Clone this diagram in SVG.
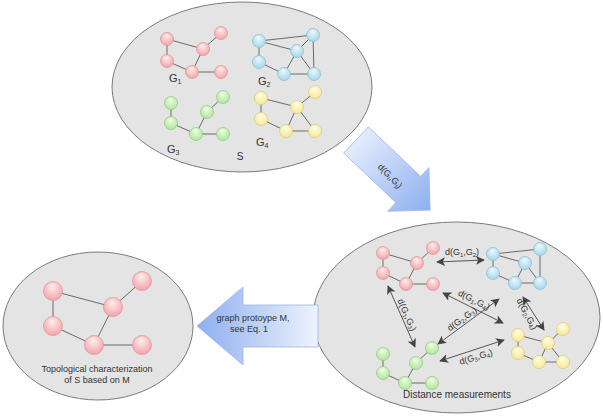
<svg xmlns="http://www.w3.org/2000/svg" width="603" height="417" viewBox="0 0 603 417">
<defs>
<radialGradient id="gr" cx="0.5" cy="0.4" r="0.6" fx="0.45" fy="0.25"><stop offset="0" stop-color="#fff0f0"/><stop offset="1" stop-color="#f3a4a8"/></radialGradient>
<radialGradient id="gb" cx="0.5" cy="0.4" r="0.6" fx="0.45" fy="0.25"><stop offset="0" stop-color="#eef9fd"/><stop offset="1" stop-color="#a6d6e9"/></radialGradient>
<radialGradient id="gg" cx="0.5" cy="0.4" r="0.6" fx="0.45" fy="0.25"><stop offset="0" stop-color="#f0fde8"/><stop offset="1" stop-color="#b0e69a"/></radialGradient>
<radialGradient id="gy" cx="0.5" cy="0.4" r="0.6" fx="0.45" fy="0.25"><stop offset="0" stop-color="#fffdea"/><stop offset="1" stop-color="#f6e994"/></radialGradient>
<linearGradient id="ga1" x1="0" y1="0" x2="1" y2="0"><stop offset="0" stop-color="#e3ecfc"/><stop offset="1" stop-color="#8eaff0"/></linearGradient>
<linearGradient id="ga2" x1="0" y1="0" x2="1" y2="0"><stop offset="0" stop-color="#8eaff0"/><stop offset="1" stop-color="#eef3fd"/></linearGradient>
<marker id="ah" viewBox="0 0 10 10" refX="9" refY="5" markerWidth="9" markerHeight="9" markerUnits="userSpaceOnUse" orient="auto-start-reverse"><path d="M0,0 L10,5 L0,10 L2.5,5 z" fill="#444"/></marker>
</defs>
<style>
.ell{fill:#e4e4e4;stroke:#7a7a7a;stroke-width:1}
.e{stroke:#6a6a6a;stroke-width:1;fill:none}
.r{fill:url(#gr);stroke:#e0979b;stroke-width:0.8}
.b{fill:url(#gb);stroke:#8cc0d4;stroke-width:0.8}
.g{fill:url(#gg);stroke:#96cc80;stroke-width:0.8}
.y{fill:url(#gy);stroke:#dccd80;stroke-width:0.8}
text{font-family:"Liberation Sans",Arial,sans-serif;fill:#333}
.gl{font-size:11px}
.dl{font-size:9px;text-anchor:middle}
.c{stroke:#555;stroke-width:1;fill:none;marker-start:url(#ah);marker-end:url(#ah)}
.arw{stroke:#9db5e6;stroke-width:0.8}
</style>

<g id="set-S">
<ellipse class="ell" cx="242" cy="87" rx="130" ry="85"/>
<text x="240" y="160" font-size="10" text-anchor="middle">S</text>
</g>

<g id="G1-top">
<path class="e" d="M167,39 L167,61 M167,39 L203,49 L221,33 M203,49 L192,72 L167,61 M192,72 L221,72"/>
<circle class="r" cx="167" cy="39" r="6.5"/><circle class="r" cx="221" cy="33" r="6.5"/><circle class="r" cx="203" cy="49" r="6.5"/><circle class="r" cx="167" cy="61" r="6.5"/><circle class="r" cx="192" cy="72" r="6.5"/><circle class="r" cx="221" cy="72" r="6.5"/>
<text class="gl" x="169" y="82">G<tspan font-size="7" dy="1.5">1</tspan></text>
</g>

<g id="G2-top">
<path class="e" d="M259,41 L313,35 L314,74 L284,74 L259,62 L259,41 L297,51 L284,74 M297,51 L314,74 M297,51 L313,35"/>
<circle class="b" cx="259" cy="41" r="6.5"/><circle class="b" cx="313" cy="35" r="6.5"/><circle class="b" cx="297" cy="51" r="6.5"/><circle class="b" cx="259" cy="62" r="6.5"/><circle class="b" cx="284" cy="74" r="6.5"/><circle class="b" cx="314" cy="74" r="6.5"/>
<text class="gl" x="258" y="85">G<tspan font-size="7" dy="1.5">2</tspan></text>
</g>

<g id="G3-top">
<path class="e" d="M171,103 L171,123 L196,134 L207,112 L223,97 M196,134 L223,134"/>
<circle class="g" cx="171" cy="103" r="6.5"/><circle class="g" cx="223" cy="97" r="6.5"/><circle class="g" cx="207" cy="112" r="6.5"/><circle class="g" cx="171" cy="123" r="6.5"/><circle class="g" cx="196" cy="134" r="6.5"/><circle class="g" cx="223" cy="134" r="6.5"/>
<text class="gl" x="167" y="153">G<tspan font-size="7" dy="1.5">3</tspan></text>
</g>

<g id="G4-top">
<path class="e" d="M261,98 L297,107 L315,92 M261,98 L261,119 L286,131 L315,131 L297,107 L286,131"/>
<circle class="y" cx="261" cy="98" r="6.5"/><circle class="y" cx="315" cy="92" r="6.5"/><circle class="y" cx="297" cy="107" r="6.5"/><circle class="y" cx="261" cy="119" r="6.5"/><circle class="y" cx="286" cy="131" r="6.5"/><circle class="y" cx="315" cy="131" r="6.5"/>
<text class="gl" x="256" y="146">G<tspan font-size="7" dy="1.5">4</tspan></text>
</g>

<g id="arrow-distance">
<polygon class="arw" fill="url(#ga1)" transform="translate(356,140) rotate(43.4)" points="0,-18 72,-18 72,-30 102,0 72,30 72,18 0,18"/>
<text font-size="9" text-anchor="middle" transform="translate(390,176) rotate(45)" y="3">d(G<tspan font-size="6" dy="1.5">i</tspan><tspan dy="-1.5">,G</tspan><tspan font-size="6" dy="1.5">j</tspan><tspan dy="-1.5">)</tspan></text>
</g>

<g id="distance-set">
<ellipse class="ell" cx="456.5" cy="317.5" rx="143.5" ry="95.5"/>
<text x="457" y="398" font-size="10" text-anchor="middle">Distance measurements</text>
</g>

<g id="G1-right">
<path class="e" d="M383,253 L383,273 M383,253 L417,263 L433,248 M417,263 L406,284 L383,273 M406,284 L433,284"/>
<circle class="r" cx="383" cy="253" r="6.5"/><circle class="r" cx="433" cy="248" r="6.5"/><circle class="r" cx="417" cy="263" r="6.5"/><circle class="r" cx="383" cy="273" r="6.5"/><circle class="r" cx="406" cy="284" r="6.5"/><circle class="r" cx="433" cy="284" r="6.5"/>
</g>

<g id="G2-right">
<path class="e" d="M493,254 L540,249 L540,283 L515,283 L493,273 L493,254 L525,263 L515,283 M525,263 L540,283"/>
<circle class="b" cx="493" cy="254" r="6.5"/><circle class="b" cx="540" cy="249" r="6.5"/><circle class="b" cx="525" cy="263" r="6.5"/><circle class="b" cx="493" cy="273" r="6.5"/><circle class="b" cx="515" cy="283" r="6.5"/><circle class="b" cx="540" cy="283" r="6.5"/>
</g>

<g id="G3-right">
<path class="e" d="M383,354 L383,373 L405,383 L416,363 L432,348 M405,383 L432,383"/>
<circle class="g" cx="383" cy="354" r="6.5"/><circle class="g" cx="432" cy="348" r="6.5"/><circle class="g" cx="416" cy="363" r="6.5"/><circle class="g" cx="383" cy="373" r="6.5"/><circle class="g" cx="405" cy="383" r="6.5"/><circle class="g" cx="432" cy="383" r="6.5"/>
</g>

<g id="G4-right">
<path class="e" d="M518,335 L548,343 L563,329 M518,335 L518,353 L539,362 L563,362 L548,343 L539,362"/>
<circle class="y" cx="518" cy="335" r="6.5"/><circle class="y" cx="563" cy="329" r="6.5"/><circle class="y" cx="548" cy="343" r="6.5"/><circle class="y" cx="518" cy="353" r="6.5"/><circle class="y" cx="539" cy="362" r="6.5"/><circle class="y" cx="563" cy="362" r="6.5"/>
</g>

<g id="connectors">
<line class="c" x1="437" y1="262" x2="484" y2="260"/>
<line class="c" x1="388" y1="286" x2="415" y2="347"/>
<line class="c" x1="443" y1="293" x2="503" y2="323"/>
<line class="c" x1="499" y1="299" x2="438" y2="344"/>
<line class="c" x1="523" y1="297" x2="544" y2="330"/>
<line class="c" x1="440" y1="361" x2="504" y2="340"/>
<text class="dl" transform="translate(462,252)" y="3">d(G<tspan font-size="6" dy="1.5">1</tspan><tspan dy="-1.5">,G</tspan><tspan font-size="6" dy="1.5">2</tspan><tspan dy="-1.5">)</tspan></text>
<text class="dl" transform="translate(407,315) rotate(66)" y="3">d(G<tspan font-size="6" dy="1.5">1</tspan><tspan dy="-1.5">,G</tspan><tspan font-size="6" dy="1.5">3</tspan><tspan dy="-1.5">)</tspan></text>
<text class="dl" transform="translate(474,300) rotate(27)" y="3">d(G<tspan font-size="6" dy="1.5">1</tspan><tspan dy="-1.5">,G</tspan><tspan font-size="6" dy="1.5">4</tspan><tspan dy="-1.5">)</tspan></text>
<text class="dl" transform="translate(462,319) rotate(-36)" y="3">d(G<tspan font-size="6" dy="1.5">2</tspan><tspan dy="-1.5">,G</tspan><tspan font-size="6" dy="1.5">3</tspan><tspan dy="-1.5">)</tspan></text>
<text class="dl" transform="translate(527,314) rotate(62)" y="3">d(G<tspan font-size="6" dy="1.5">2</tspan><tspan dy="-1.5">,G</tspan><tspan font-size="6" dy="1.5">4</tspan><tspan dy="-1.5">)</tspan></text>
<text class="dl" transform="translate(476,357) rotate(-17)" y="3">d(G<tspan font-size="6" dy="1.5">3</tspan><tspan dy="-1.5">,G</tspan><tspan font-size="6" dy="1.5">4</tspan><tspan dy="-1.5">)</tspan></text>
</g>

<g id="arrow-prototype">
<polygon class="arw" fill="url(#ga2)" points="197,326 243,287 243,305 318,305 318,347 243,347 243,365"/>
<text font-size="9" text-anchor="middle" x="253" y="321">graph protoype M,</text>
<text font-size="9" text-anchor="middle" x="249" y="332">see Eq. 1</text>
</g>

<g id="prototype-set">
<ellipse class="ell" cx="98" cy="326" rx="95" ry="74"/>
<path class="e" d="M53,291 L53,326 M53,291 L113,307 L142,281 M113,307 L94,345 L53,326 M94,345 L142,345"/>
<circle class="r" cx="53" cy="291" r="9.5"/><circle class="r" cx="142" cy="281" r="9.5"/><circle class="r" cx="113" cy="307" r="9.5"/><circle class="r" cx="53" cy="326" r="9.5"/><circle class="r" cx="94" cy="345" r="9.5"/><circle class="r" cx="142" cy="345" r="9.5"/>
<text font-size="9" text-anchor="middle" x="97" y="372">Topological characterization</text>
<text font-size="9" text-anchor="middle" x="97" y="383">of S based on M</text>
</g>
</svg>
